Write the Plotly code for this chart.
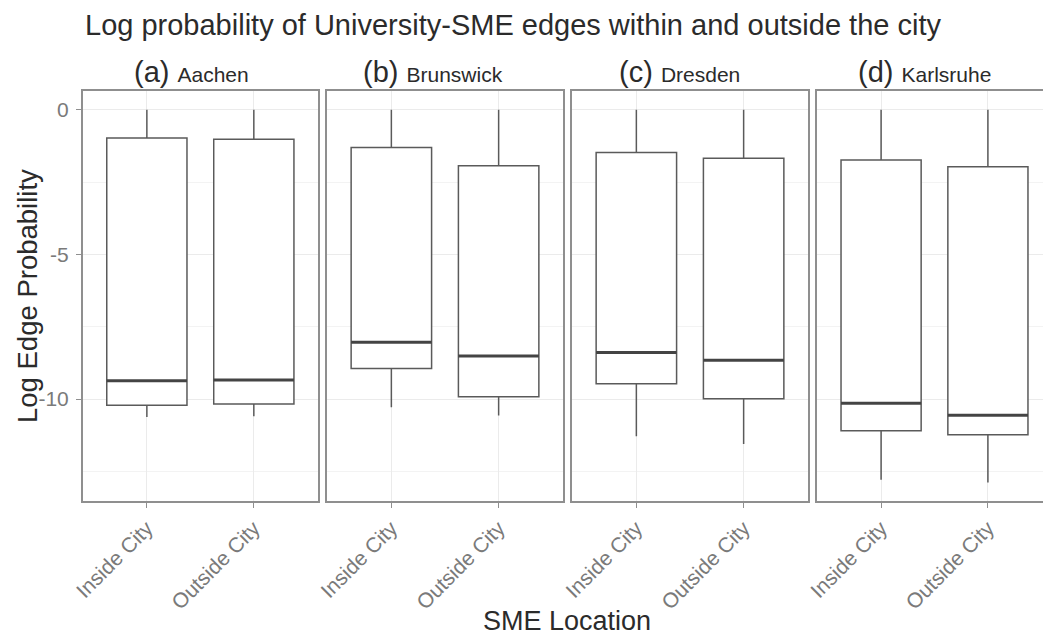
import plotly.graph_objects as go

# ---------------- data ----------------
cities = ["Aachen", "Brunswick", "Dresden", "Karlsruhe"]
letters = ["(a)", "(b)", "(c)", "(d)"]
locations = ["Inside City", "Outside City"]

upper_whisker = [[0.0, 0.0], [0.0, 0.0], [0.0, 0.0], [0.0, 0.0]]
q3_vals = [[-0.98, -1.02], [-1.31, -1.94], [-1.48, -1.68], [-1.74, -1.97]]
median_vals = [[-9.37, -9.34], [-8.04, -8.51], [-8.39, -8.66], [-10.14, -10.56]]
q1_vals = [[-10.21, -10.17], [-8.94, -9.92], [-9.47, -9.99], [-11.09, -11.23]]
lower_whisker = [[-10.62, -10.59], [-10.28, -10.57], [-11.28, -11.55], [-12.79, -12.88]]

y_tickvals = [0, -5, -10]
y_ticktext = ["0", "-5", "-10"]

title_text = "Log probability of University-SME edges within and outside the city"
x_title = "SME Location"
y_title = "Log Edge Probability"

# ---------------- layout geometry ----------------
W, H = 1043, 639
panel_px = [(82.7, 318.0), (327.0, 563.0), (572.0, 808.0), (817.0, 1052.0)]
y_top_px, y_bot_px = 91.0, 501.0
x_range = [-0.6, 1.6]
y_range = [-13.52, 0.644]
box_w = 0.75
strip_centers_px = [191.5, 433.0, 679.0, 924.0]

font_family = "Liberation Sans, Arial, Helvetica, sans-serif"
border_col = "#8f8f8f"
box_col = "#5a5a5a"
med_col = "#444444"
tick_col = "#7a7a7a"
grid_major = "#ebebeb"
grid_minor = "#f3f3f3"

fig = go.Figure()

for i, city in enumerate(cities):
    ax = "" if i == 0 else str(i + 1)
    fig.add_trace(go.Box(
        x=[0, 1],
        q1=q1_vals[i], median=median_vals[i], q3=q3_vals[i],
        lowerfence=lower_whisker[i], upperfence=upper_whisker[i],
        width=box_w, whiskerwidth=0, boxpoints=False,
        fillcolor="white", line=dict(color=box_col, width=1.5),
        xaxis="x" + ax, yaxis="y" + ax, name=city, hoverinfo="skip",
    ))
    # thicker median (ggplot fatten)
    mx, my = [], []
    for j in range(len(locations)):
        mx += [j - box_w / 2, j + box_w / 2, None]
        my += [median_vals[i][j], median_vals[i][j], None]
    fig.add_trace(go.Scatter(
        x=mx, y=my, mode="lines", line=dict(color=med_col, width=3),
        xaxis="x" + ax, yaxis="y" + ax, hoverinfo="skip",
    ))

ydom = [1 - y_bot_px / H, 1 - y_top_px / H]
layout = dict(
    width=W, height=H,
    margin=dict(l=0, r=0, t=0, b=0, autoexpand=False),
    paper_bgcolor="white", plot_bgcolor="white",
    showlegend=False,
    font=dict(family=font_family, color="#333333"),
)

for i in range(len(cities)):
    ax = "" if i == 0 else str(i + 1)
    x0, x1 = panel_px[i]
    xr = list(x_range)
    if x1 > W:
        xr[1] = x_range[0] + (x_range[1] - x_range[0]) * (W - x0) / (x1 - x0)
        x1 = W
    layout["xaxis" + ax] = dict(
        domain=[x0 / W, x1 / W], range=xr, anchor="y" + ax,
        tickvals=list(range(len(locations))), ticktext=locations,
        tickangle=-45, ticks="outside", ticklen=5, tickcolor=border_col,
        tickfont=dict(size=21, color=tick_col, family=font_family),
        showgrid=True, gridcolor=grid_major, gridwidth=1.2,
        showline=True, linecolor=border_col, linewidth=1.5, mirror=True,
        zeroline=False, fixedrange=True, automargin=False,
    )
    layout["yaxis" + ax] = dict(
        domain=ydom, range=y_range, anchor="x" + ax,
        tickvals=y_tickvals, ticktext=y_ticktext,
        ticks="outside" if i == 0 else "", ticklen=5, tickcolor=border_col,
        showticklabels=(i == 0), ticklabelstandoff=3,
        tickfont=dict(size=21, color=tick_col, family=font_family),
        showgrid=True, gridcolor=grid_major, gridwidth=1.2,
        minor=dict(tickvals=[-2.5, -7.5, -12.5], showgrid=True,
                   gridcolor=grid_minor, gridwidth=0.8),
        showline=True, linecolor=border_col, linewidth=1.5,
        mirror=(x1 < W), zeroline=False, fixedrange=True, automargin=False,
    )

annotations = []
annotations.append(dict(
    text=title_text, xref="paper", yref="paper",
    x=82.7 / W, y=1 - 25 / H, xanchor="left", yanchor="middle",
    showarrow=False, font=dict(size=29, color="#2b2b2b", family=font_family),
))
for i, city in enumerate(cities):
    annotations.append(dict(
        text=f"{letters[i]} <span style='font-size:21px'>{city}</span>",
        xref="paper", yref="paper",
        x=strip_centers_px[i] / W, y=1 - 72 / H,
        xanchor="center", yanchor="middle", showarrow=False,
        font=dict(size=29, color="#2b2b2b", family=font_family),
    ))
annotations.append(dict(
    text=x_title, xref="paper", yref="paper",
    x=567 / W, y=1 - 621 / H, xanchor="center", yanchor="middle",
    showarrow=False, font=dict(size=27, color="#2b2b2b", family=font_family),
))
annotations.append(dict(
    text=y_title, xref="paper", yref="paper",
    x=27 / W, y=1 - 296 / H, xanchor="center", yanchor="middle",
    textangle=-90, showarrow=False,
    font=dict(size=27.5, color="#2b2b2b", family=font_family),
))
layout["annotations"] = annotations

fig.update_layout(**layout)
fig.write_html(
    "out.html",
    config={"displayModeBar": False},
    post_script="document.body.style.margin='0';document.body.style.overflow='hidden';",
)
